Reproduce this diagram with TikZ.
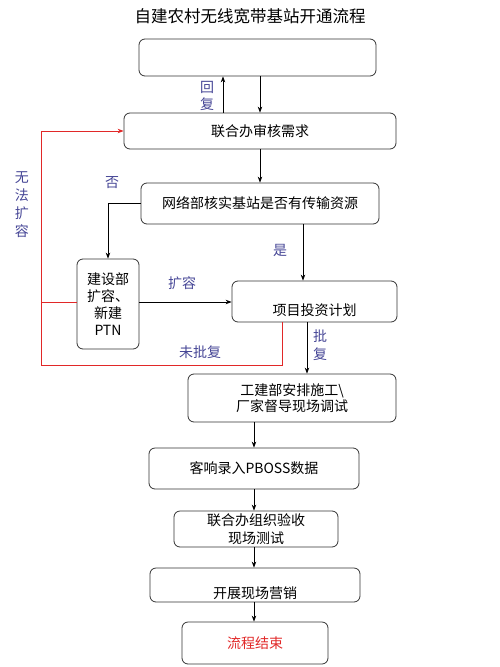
\documentclass[tikz,border=0pt]{standalone}
\usepackage{fontspec}
\setmainfont{Noto Sans CJK SC}
\usepackage{tikz}
\usetikzlibrary{arrows.meta, positioning, calc}

\definecolor{labelblue}{RGB}{70,70,150}
\definecolor{backred}{RGB}{225,40,40}

\begin{document}
\begin{tikzpicture}[
        x=1pt, y=-1pt,
        box/.style={rectangle, draw=black!80, line width=0.8pt, rounded corners=6pt, align=center, inner sep=0pt, font=\fontsize{14}{17}\selectfont},
        flow/.style={-{Stealth[length=6pt, width=4.5pt]}, line width=0.8pt, black},
        reject/.style={-{Stealth[length=6pt, width=4.5pt]}, line width=0.8pt, backred},
        note/.style={text=labelblue, align=center, font=\fontsize{14}{17.5}\selectfont}
    ]
    \useasboundingbox (0,0) rectangle (500,667);

    % --- Title ---
    \node[font=\fontsize{16.5}{20}\selectfont] (title) at (250,16) {自建农村无线宽带基站开通流程};

    % --- Upper part: request and review ---
    \node[box, minimum width=237pt, minimum height=37pt] (req) at (257.5,57.5) {};
    \node[box, minimum width=272pt, minimum height=36pt] (review) at (260,131) {联合办审核需求};
    \node[box, minimum width=238pt, minimum height=41pt] (check) at (260,203.5) {网络部核实基站是否有传输资源};
    \node[box, minimum width=62pt, minimum height=90pt] (build) at (108,304) {建设部\\扩容、\\新建\\PTN};
    \node[box, minimum width=165pt, minimum height=41pt] (plan) at (314.5,301.5) {\strut\\项目投资计划};

    \draw[flow] (req.south -| review.north) -- (review.north);
    \draw[flow] ([xshift=-37pt]review.north) -- ([xshift=-37pt]review.north |- req.south);
    \node[note] (reply) at (207,96) {回\\复};

    \draw[flow] (review) -- (check);
    \draw[flow] (check.west) -| (build.north);
    \node[note] (no) at (112,183) {否};
    \draw[flow] ([xshift=43pt]check.south) -- ([xshift=43pt]check.south |- plan.north);
    \node[note] (yes) at (280,250) {是};
    \draw[flow] (build.east |- 0,302) -- (plan.west |- 0,302);
    \node[note] (expand) at (182,283) {扩容};

    % --- Red return path ---
    \coordinate (back) at (41,365);
    \draw[reject] ([xshift=-32.5pt]plan.south) |- (back) |- (review.west);
    \draw[backred, line width=0.8pt] (build.west |- 0,302) -- (back |- 0,302);
    \node[note] (refused) at (200,352) {未批复};
    \node[note, font=\fontsize{14}{18}\selectfont] (nofix) at (22,205) {无\\法\\扩\\容};

    % --- Lower part: build and hand over ---
    \node[box, minimum width=208pt, minimum height=48pt, font=\fontsize{14}{16.5}\selectfont] (work) at (292,398) {工建部安排施工\textbackslash\\厂家督导现场调试};
    \node[box, minimum width=210pt, minimum height=41pt] (pboss) at (254,468.5) {客响录入PBOSS数据};
    \node[box, minimum width=164pt, minimum height=36pt, font=\fontsize{14}{18}\selectfont] (accept) at (256,529) {联合办组织验收\\现场测试};
    \node[box, minimum width=210pt, minimum height=34pt] (market) at (255,585) {\strut\\开展现场营销};
    \node[box, minimum width=146pt, minimum height=42pt, text=backred] (done) at (255,643) {流程结束};

    \draw[flow] ([xshift=-7.5pt]plan.south) -- ([xshift=-7.5pt]plan.south |- work.north);
    \node[note] (approved) at (320,345) {批\\复};
    \draw[flow] (work.south -| pboss.north) -- (pboss.north);
    \draw[flow] (pboss.south) -- (pboss.south |- accept.north);
    \draw[flow] (accept.south -| pboss.south) -- (pboss.south |- market.north);
    \draw[flow] (market.south -| pboss.south) -- (pboss.south |- done.north);

\end{tikzpicture}
\end{document}
